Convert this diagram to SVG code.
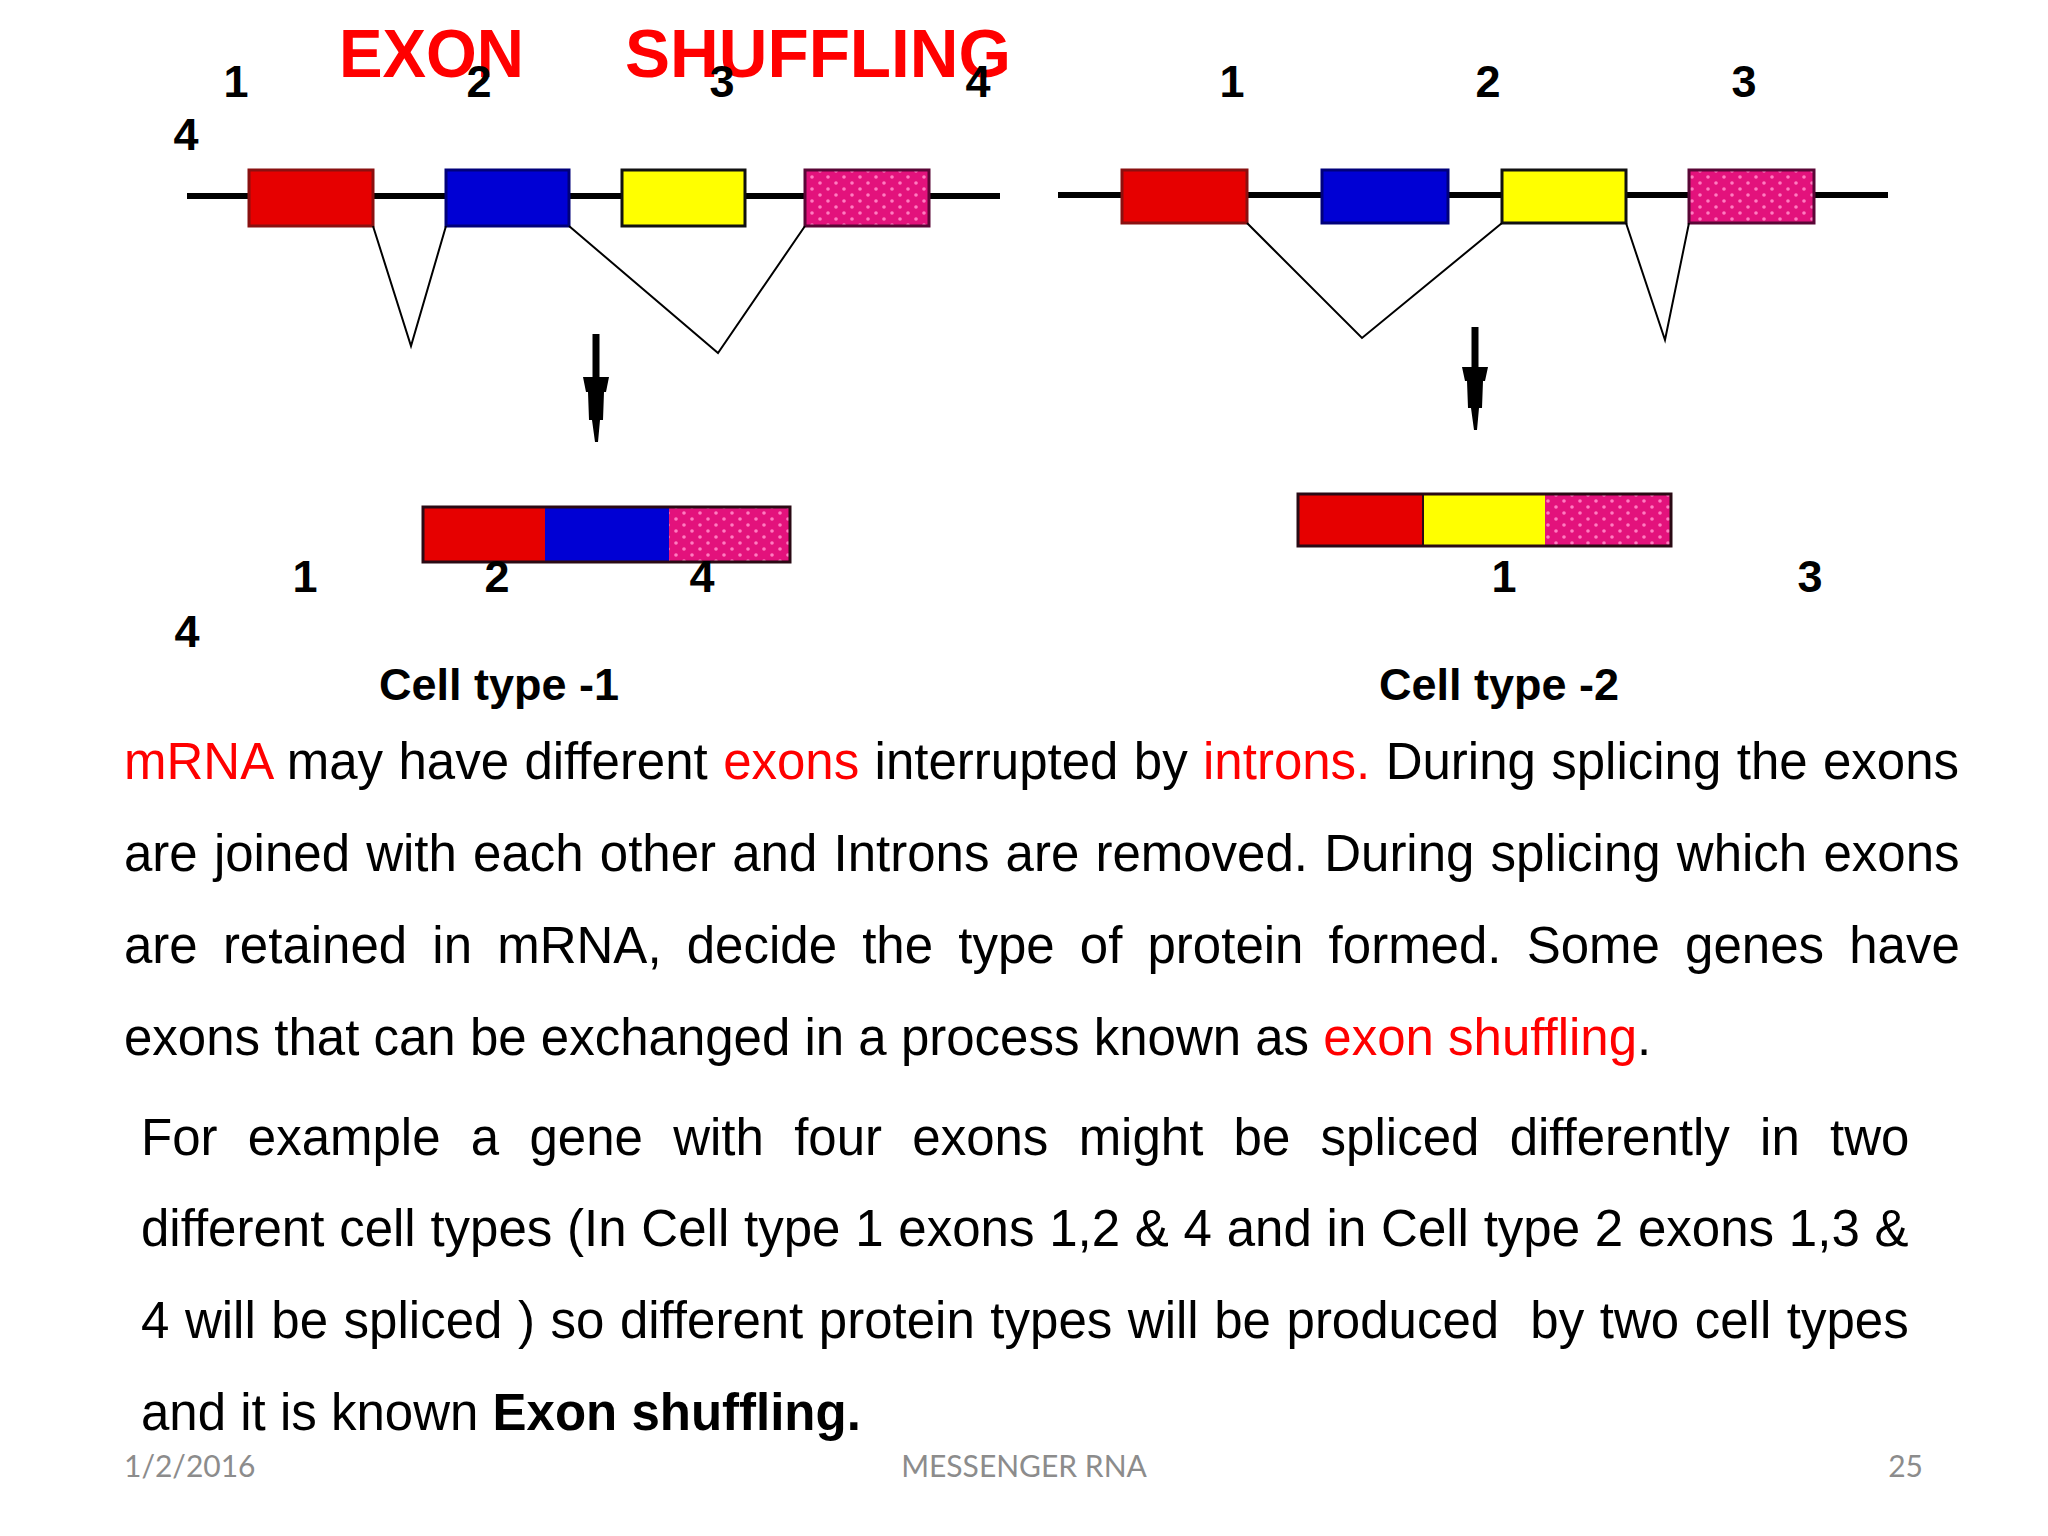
<svg xmlns="http://www.w3.org/2000/svg" width="2048" height="1536" viewBox="0 0 2048 1536">
<style>
.num{font-family:"Liberation Sans",Arial,sans-serif;font-weight:bold;font-size:45px;fill:#000;text-anchor:middle}
.cell{font-family:"Liberation Sans",Arial,sans-serif;font-weight:bold;font-size:45px;fill:#000;text-anchor:middle}
.title{font-family:"Liberation Sans",Arial,sans-serif;font-weight:bold;font-size:68px;fill:#ff0000}
.para{font-family:"Liberation Sans",Arial,sans-serif;font-size:51px;fill:#000}
.red{fill:#ff0000}
.b{font-weight:bold}
.foot{font-family:Lato,"Open Sans",sans-serif;font-size:30px;fill:#8c8c8c}
.gline{stroke:#000;stroke-width:6;fill:none}
.intron{stroke:#000;stroke-width:2;fill:none;stroke-linejoin:miter}
.exR{fill:#e60000;stroke:#8a1010;stroke-width:3}
.exB{fill:#0000d4;stroke:#00007a;stroke-width:3}
.exY{fill:#ffff00;stroke:#111;stroke-width:3}
.exP{fill:url(#dots);stroke:#5a0636;stroke-width:3}
.arr{stroke:#000;stroke-width:7;fill:none}
.head{fill:#000}
</style>
<defs>
<pattern id="dots" patternUnits="userSpaceOnUse" width="16" height="12">
<rect width="16" height="12" fill="#e3127c"/>
<circle cx="4" cy="3" r="1.8" fill="#ff7cc0"/>
<circle cx="12" cy="9" r="1.8" fill="#ff7cc0"/>
</pattern>
</defs>
<rect width="2048" height="1536" fill="#fff"/>

<g id="title">
<text class="title" x="339" y="77" textLength="185" lengthAdjust="spacingAndGlyphs">EXON</text>
<text class="title" x="625" y="77" textLength="386" lengthAdjust="spacingAndGlyphs">SHUFFLING</text>
</g>

<g id="gene-left">
<line class="gline" x1="187" y1="196" x2="1000" y2="196"/>
<rect class="exR" x="249" y="170" width="124" height="56"/>
<rect class="exB" x="446" y="170" width="123" height="56"/>
<rect class="exY" x="622" y="170" width="123" height="56"/>
<rect class="exP" x="805" y="170" width="124" height="56"/>
<polyline class="intron" points="373,226 411,346 446,226"/>
<polyline class="intron" points="569,226 718,353 805,226"/>
</g>

<g id="gene-right">
<line class="gline" x1="1058" y1="195" x2="1888" y2="195"/>
<rect class="exR" x="1122" y="170" width="125" height="53"/>
<rect class="exB" x="1322" y="170" width="126" height="53"/>
<rect class="exY" x="1502" y="170" width="124" height="53"/>
<rect class="exP" x="1689" y="170" width="125" height="53"/>
<polyline class="intron" points="1247,223 1362,338 1502,223"/>
<polyline class="intron" points="1626,223 1665,340 1689,223"/>
</g>

<g id="connectors">
<line class="arr" x1="596" y1="334" x2="596" y2="380"/>
<polygon class="head" points="583,377 609,377 606,392 604,392 603,420 600,420 598,442 595,442 592,420 589,420 588,392 586,392"/>
<line class="arr" x1="1475" y1="327" x2="1475" y2="370"/>
<polygon class="head" points="1462,367 1488,367 1485,381 1483,381 1482,408 1479,408 1477,430 1474,430 1471,408 1468,408 1467,381 1465,381"/>
</g>

<g id="mrna-left">
<rect x="423" y="507" width="122" height="55" fill="#e60000"/>
<rect x="545" y="507" width="124" height="55" fill="#0000d4"/>
<rect x="669" y="507" width="121" height="55" fill="url(#dots)"/>
<rect x="423" y="507" width="367" height="55" fill="none" stroke="#2a0a14" stroke-width="3"/>
</g>

<g id="mrna-right">
<rect x="1298" y="494" width="125" height="52" fill="#e60000"/>
<rect x="1423" y="494" width="122" height="52" fill="#ffff00"/>
<rect x="1545" y="494" width="126" height="52" fill="url(#dots)"/>
<rect x="1298" y="494" width="373" height="52" fill="none" stroke="#2a0a14" stroke-width="3"/>
<line x1="1423" y1="494" x2="1423" y2="546" stroke="#2a0a14" stroke-width="2"/>
</g>

<g id="labels">
<text class="num" x="236" y="97">1</text>
<text class="num" x="479" y="97">2</text>
<text class="num" x="722" y="97">3</text>
<text class="num" x="978" y="97">4</text>
<text class="num" x="186" y="150">4</text>
<text class="num" x="1232" y="97">1</text>
<text class="num" x="1488" y="97">2</text>
<text class="num" x="1744" y="97">3</text>
<text class="num" x="305" y="592">1</text>
<text class="num" x="497" y="592">2</text>
<text class="num" x="702" y="592">4</text>
<text class="num" x="187" y="647">4</text>
<text class="num" x="1504" y="592">1</text>
<text class="num" x="1810" y="592">3</text>
<text class="cell" x="499" y="700">Cell type -1</text>
<text class="cell" x="1499" y="700">Cell type -2</text>
</g>

<g id="paragraph">
<text class="para" x="124" y="779" style="word-spacing:1.2px"><tspan class="red">mRNA</tspan> may have different <tspan class="red">exons</tspan> interrupted by <tspan class="red">introns.</tspan> During splicing the exons</text>
<text class="para" x="124" y="871" style="word-spacing:2px">are joined with each other and Introns are removed. During splicing which exons</text>
<text class="para" x="124" y="963" style="word-spacing:11px">are retained in mRNA, decide the type of protein formed. Some genes have</text>
<text class="para" x="124" y="1055">exons that can be exchanged in a process known as <tspan class="red">exon shuffling</tspan>.</text>
<text class="para" x="141" y="1155" style="word-spacing:16.1px">For example a gene with four exons might be spliced differently in two</text>
<text class="para" x="141" y="1246" style="word-spacing:0.6px">different cell types (In Cell type 1 exons 1,2 &amp; 4 and in Cell type 2 exons 1,3 &amp;</text>
<text class="para" x="141" y="1338" xml:space="preserve" style="word-spacing:1.4px">4 will be spliced ) so different protein types will be produced  by two cell types</text>
<text class="para" x="141" y="1430">and it is known <tspan class="b">Exon shuffling.</tspan></text>
</g>

<g id="footer">
<text class="foot" x="124" y="1477">1/2/2016</text>
<text class="foot" x="1024" y="1477" text-anchor="middle">MESSENGER RNA</text>
<text class="foot" x="1923" y="1477" text-anchor="end">25</text>
</g>
</svg>
